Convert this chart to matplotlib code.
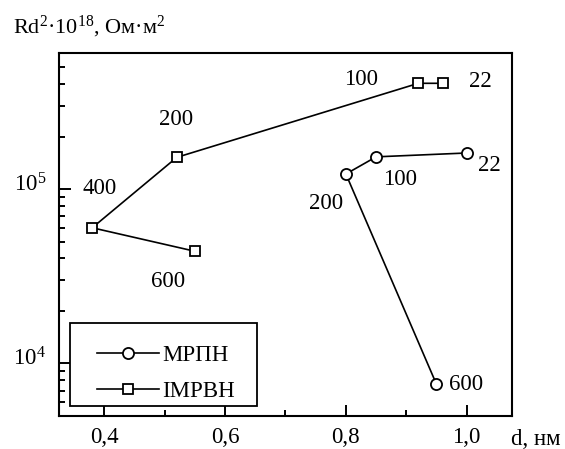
import matplotlib
matplotlib.use("Agg")
import matplotlib.pyplot as plt
import matplotlib.transforms as mtransforms
from matplotlib.patches import Rectangle
from matplotlib.ticker import MultipleLocator, LogLocator, FixedFormatter, FixedLocator

plt.rcParams['font.family'] = ['Liberation Serif', 'DejaVu Serif']
plt.rcParams['mathtext.fontset'] = 'custom'
plt.rcParams['mathtext.rm'] = 'Liberation Serif'
plt.rcParams['mathtext.it'] = 'Liberation Serif:italic'

# data: film thickness d (nm) and Rd^2 (x1e-18 Ohm*m^2), labelled by temperature
mrpn_d = [0.95, 0.80, 0.85, 1.00]
mrpn_r = [7.6e3, 1.22e5, 1.53e5, 1.61e5]
mrpn_t = ["600", "200", "100", "22"]

imrvn_d = [0.55, 0.38, 0.52, 0.92, 0.96]
imrvn_r = [4.4e4, 6.0e4, 1.52e5, 4.04e5, 4.04e5]
imrvn_t = ["600", "400", "200", "100", "22"]

x_ticks = [0.4, 0.6, 0.8, 1.0]
x_tick_labels = ["0,4", "0,6", "0,8", "1,0"]

# label offsets in points (dx, dy of the text centre)
mrpn_off = [(21.5, 0), (-14.5, -21), (17.5, -16.5), (16, -9)]
imrvn_off = [(-19.5, -22), (5.5, 28), (-0.5, 27), (-41, 2.5), (27.5, 1)]

FS = 16.5

fig = plt.figure(figsize=(5.65, 4.49), dpi=100)
ax = fig.add_axes([0.1039, 0.0735, 0.8028, 0.8091])

ax.plot(mrpn_d, mrpn_r, color='black', lw=1.2, marker='o', ms=8,
        mfc='white', mec='black', mew=1.3, label='МРПН')
ax.plot(imrvn_d, imrvn_r, color='black', lw=1.2, marker='s', ms=7.4,
        mfc='white', mec='black', mew=1.3, label='ІМРВН')

for d, r, t, off in zip(mrpn_d, mrpn_r, mrpn_t, mrpn_off):
    ax.annotate(t, (d, r), xytext=off, textcoords='offset points',
                ha='center', va='center', fontsize=FS)
for d, r, t, off in zip(imrvn_d, imrvn_r, imrvn_t, imrvn_off):
    ax.annotate(t, (d, r), xytext=off, textcoords='offset points',
                ha='center', va='center', fontsize=FS)

ax.set_yscale('log')
ax.set_xlim(0.3245, 1.0755)
ax.set_ylim(5.0e3, 6.05e5)

ax.xaxis.set_major_locator(FixedLocator(x_ticks))
ax.xaxis.set_major_formatter(FixedFormatter(x_tick_labels))
ax.xaxis.set_minor_locator(MultipleLocator(0.1))
ax.yaxis.set_major_locator(LogLocator(base=10, numticks=10))
ax.yaxis.set_minor_locator(LogLocator(base=10, subs=range(2, 10), numticks=20))

ax.tick_params(which='both', direction='in', top=False, right=False,
               width=1.4, labelsize=FS)
ax.tick_params(axis='x', which='major', length=8, pad=8)
ax.tick_params(axis='x', which='minor', length=4)
ax.tick_params(axis='y', which='major', length=8.6, pad=9)
ax.tick_params(axis='y', which='minor', length=4.3)
for s in ax.spines.values():
    s.set_linewidth(1.5)

shift = mtransforms.ScaledTranslation(0, 5 / 72, fig.dpi_scale_trans)
for lab in ax.get_yticklabels():
    lab.set_transform(lab.get_transform() + shift)

# legend with a frame drawn separately
ax.add_patch(Rectangle((0.0249, 0.0284), 0.4123, 0.2268, transform=ax.transAxes,
                       fill=True, facecolor='white', edgecolor='black', lw=1.3,
                       zorder=4))
leg = ax.legend(loc='center left', bbox_to_anchor=(0.0844, 0.1175), frameon=False,
                fontsize=FS, handlelength=2.7, handletextpad=0.13,
                labelspacing=0.63, borderpad=0, borderaxespad=0)
leg.set_zorder(5)

fig.text(13.3 / 565, 1 - 33.3 / 449, r'Rd$^{\mathrm{2}}$·10$^{\mathrm{18}}$, Ом·м$^{\mathrm{2}}$',
         fontsize=16, ha='left', va='baseline')
fig.text(510.7 / 565, 1 - 445 / 449, 'd, нм', fontsize=FS, ha='left', va='baseline')

fig.savefig('out.png', dpi=100)
